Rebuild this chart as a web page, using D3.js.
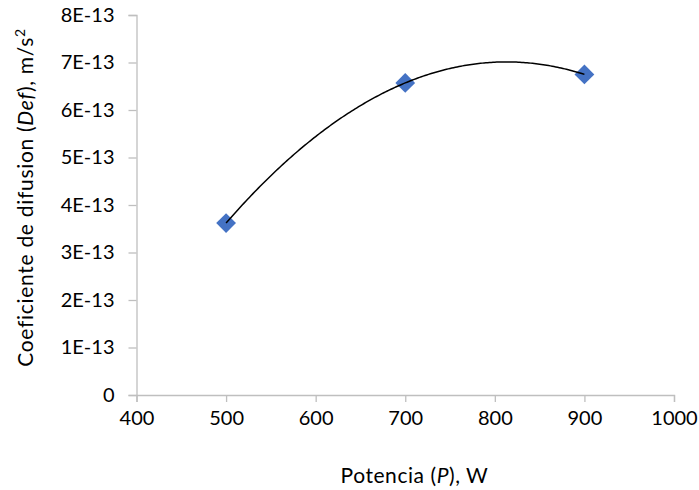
<!DOCTYPE html>
<html>
<head>
<meta charset="utf-8">
<script src="https://cdn.jsdelivr.net/npm/d3@7"></script>
<style>
  html, body { margin: 0; padding: 0; background: #fff; }
  svg { display: block; }
  text { font-family: Lato, "Open Sans", sans-serif; fill: #000; }
</style>
</head>
<body>
<svg id="chart" width="699" height="490"></svg>
<script>
// ---- data ----
const potencia = [500, 700, 900];
const coefDif = [3.62e-13, 6.57e-13, 6.75e-13];
const xTicks = [400, 500, 600, 700, 800, 900, 1000];
const yTicks = [0, 1e-13, 2e-13, 3e-13, 4e-13, 5e-13, 6e-13, 7e-13, 8e-13];
const yTickLabels = ["0", "1E-13", "2E-13", "3E-13", "4E-13", "5E-13", "6E-13", "7E-13", "8E-13"];

const plotL = 136.5, plotR = 674, plotT = 15, plotB = 395;
const svg = d3.select("#chart");

const x = d3.scaleLinear().domain([400, 1000]).range([plotL, plotR]);
const y = d3.scaleLinear().domain([0, 8e-13]).range([plotB, plotT]);

const axisColor = "#bfbfbf";
const fs = 20;

// y axis
const yAxis = d3.axisLeft(y).tickValues(yTicks).tickSize(8).tickPadding(14)
  .tickFormat((d, i) => yTickLabels[i]);
const gy = svg.append("g").attr("transform", `translate(${plotL},0)`).call(yAxis);
gy.select(".domain").attr("stroke", axisColor).attr("stroke-width", 1.3);
gy.selectAll(".tick line").attr("stroke", axisColor).attr("stroke-width", 1.3);
gy.selectAll(".tick text").style("font-size", fs + "px").attr("fill", "#000");

// x axis
const xAxis = d3.axisBottom(x).tickValues(xTicks).tickSize(7).tickPadding(9)
  .tickFormat(d3.format("d"));
const gx = svg.append("g").attr("transform", `translate(0,${plotB})`).call(xAxis);
gx.select(".domain").attr("stroke", axisColor).attr("stroke-width", 1.3);
gx.selectAll(".tick line").attr("stroke", axisColor).attr("stroke-width", 1.3);
gx.selectAll(".tick text").style("font-size", fs + "px").attr("fill", "#000");

// polynomial (order 2) least-squares trendline from the data
function polyfit2(xs, ys) {
  const n = xs.length;
  let s = [0,0,0,0,0], t = [0,0,0];
  for (let i = 0; i < n; i++) {
    const xv = xs[i], yv = ys[i];
    for (let k = 0; k <= 4; k++) s[k] += Math.pow(xv, k);
    for (let k = 0; k <= 2; k++) t[k] += yv * Math.pow(xv, k);
  }
  const A = [[s[0], s[1], s[2], t[0]], [s[1], s[2], s[3], t[1]], [s[2], s[3], s[4], t[2]]];
  for (let c = 0; c < 3; c++) {
    let p = c;
    for (let r = c + 1; r < 3; r++) if (Math.abs(A[r][c]) > Math.abs(A[p][c])) p = r;
    [A[c], A[p]] = [A[p], A[c]];
    for (let r = 0; r < 3; r++) {
      if (r === c) continue;
      const f = A[r][c] / A[c][c];
      for (let k = c; k < 4; k++) A[r][k] -= f * A[c][k];
    }
  }
  return [A[0][3] / A[0][0], A[1][3] / A[1][1], A[2][3] / A[2][2]];
}
const coef = polyfit2(potencia, coefDif);
const xmin = d3.min(potencia), xmax = d3.max(potencia);
const trend = d3.range(0, 201).map(i => {
  const xv = xmin + (xmax - xmin) * i / 200;
  return [xv, coef[0] + coef[1] * xv + coef[2] * xv * xv];
});

// markers
svg.append("g").selectAll("path").data(potencia).join("path")
  .attr("d", d3.symbol(d3.symbolSquare, 196))
  .attr("transform", (d, i) => `translate(${x(d)},${y(coefDif[i])}) rotate(45)`)
  .attr("fill", "#4472c4");

// trendline
svg.append("path").datum(trend)
  .attr("fill", "none").attr("stroke", "#000").attr("stroke-width", 1.5)
  .attr("d", d3.line().x(d => x(d[0])).y(d => y(d[1])));

// x title
const xt = svg.append("text").attr("x", 414.5).attr("y", 483)
  .attr("text-anchor", "middle").style("font-size", "21px").style("letter-spacing", "0.55px");
xt.append("tspan").text("Potencia (");
xt.append("tspan").attr("font-style", "italic").text("P");
xt.append("tspan").text("), W");

// y title
const yt = svg.append("text")
  .attr("transform", `translate(33,197.5) rotate(-90)`)
  .attr("text-anchor", "middle").style("font-size", "21px").style("letter-spacing", "0.7px");
yt.append("tspan").text("Coeficiente de difusion (");
yt.append("tspan").attr("font-style", "italic").text("Def");
yt.append("tspan").text("), m/s");
yt.append("tspan").attr("dy", -8).style("font-size", "14px").text("2");
</script>
</body>
</html>
